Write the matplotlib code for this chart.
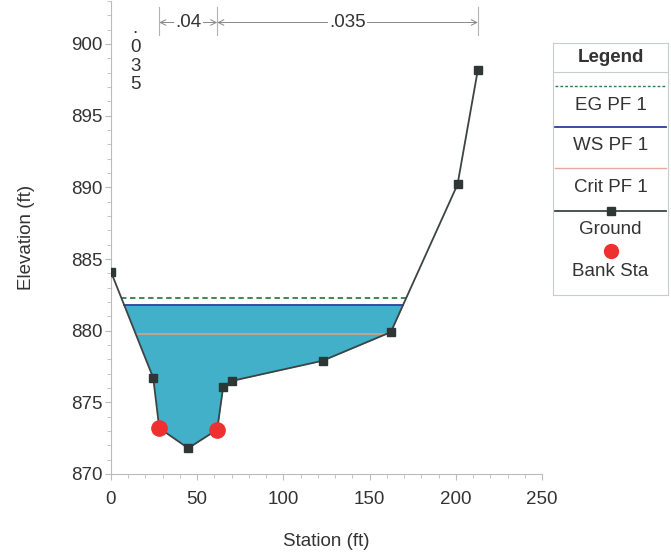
import numpy as np
import matplotlib
matplotlib.use("Agg")
import matplotlib.pyplot as plt
from matplotlib.ticker import MultipleLocator

plt.rcParams['font.family'] = ['Liberation Sans', 'DejaVu Sans']

# ground profile (station, elevation)
station = [0, 24.5, 28.0, 44.8, 61.6, 65.1, 70.3, 122.7, 162.3, 201.0, 212.8]
elevation = [884.1, 876.7, 873.2, 871.8, 873.1, 876.1, 876.5, 877.9, 879.9, 890.2, 898.2]
# bank stations
bank_sta = [28.0, 61.6]
bank_elev = [873.2, 873.1]
# water surfaces
ws_pf1 = 881.8
eg_pf1 = 882.3
crit_pf1 = 879.8
# manning's n values and their limits
n_values = [".035", ".04", ".035"]
n_breaks = [0, 28.0, 61.6, 212.8]

st = np.array(station)
el = np.array(elevation)
imin = int(np.argmin(el))
FS = 13.5
TXT = "#333333"


def edges(level):
    # station where a level meets the ground on each bank
    left = np.interp(level, el[:imin + 1][::-1], st[:imin + 1][::-1])
    right = np.interp(level, el[imin:], st[imin:])
    return left, right


fig = plt.figure(figsize=(6.71, 5.55), dpi=100)
ax = fig.add_axes([111 / 671, 1 - 474 / 555, 431 / 671, 473 / 555])

# water fill between WS and ground
wl, wr = edges(ws_pf1)
xs = np.concatenate([[wl], st[(st > wl) & (st < wr)], [wr]])
ys = np.interp(xs, st, el)
ax.fill_between(xs, ys, ws_pf1, color="#42b0c9", zorder=1, lw=0)

el_l, el_r = edges(eg_pf1)
ax.plot([el_l, el_r], [eg_pf1, eg_pf1], color="#2f7f48", ls=(0, (3, 2)), lw=1.3, zorder=3)
ax.plot([wl, wr], [ws_pf1, ws_pf1], color="#2a3f9a", lw=1.3, zorder=3)
cl, cr = edges(crit_pf1)
ax.plot([cl, cr], [crit_pf1, crit_pf1], color="#e0a080", lw=1.2, zorder=3)

ax.plot(station, elevation, color="#3c4444", lw=1.3, marker="s", ms=6,
        mfc="#2e3636", mec="#2e3636", zorder=4)
ax.plot(bank_sta, bank_elev, "o", color="#ee3030", ms=11, zorder=5, lw=0)

ax.set_xlim(0, 250)
ax.set_ylim(870, 903)
ax.set_xticks([0, 50, 100, 150, 200, 250])
ax.set_yticks([870, 875, 880, 885, 890, 895, 900])
ax.xaxis.set_minor_locator(MultipleLocator(10))
ax.yaxis.set_minor_locator(MultipleLocator(1))
for s in ["top", "right"]:
    ax.spines[s].set_visible(False)
for s in ["left", "bottom"]:
    ax.spines[s].set_color("#b8bcbc")
ax.tick_params(which="both", colors="#b8bcbc", labelcolor=TXT, labelsize=FS)
ax.tick_params(axis="y", which="major", length=4, pad=2)
ax.tick_params(axis="x", which="major", length=4, pad=8)
ax.tick_params(which="minor", length=3)
ax.set_xlabel("Station (ft)", fontsize=FS, color=TXT, labelpad=18)
ax.set_ylabel("Elevation (ft)", fontsize=FS, color=TXT, labelpad=26)

# n-value markers at the top
for b in n_breaks[1:]:
    ax.plot([b, b], [900.6, 902.6], color="#b0b4b4", lw=0.8, clip_on=False)
ax.text(14, 901.7, "\n".join(n_values[0]), ha="center", va="top", fontsize=FS,
        color=TXT, linespacing=1.15)
for i in range(1, 3):
    a, b = n_breaks[i], n_breaks[i + 1]
    ax.annotate("", xy=(a, 901.5), xytext=(b, 901.5),
                arrowprops=dict(arrowstyle="<->", color="#888888", lw=0.7,
                                shrinkA=0, shrinkB=0))
    ax.text((a + b) / 2, 901.5, n_values[i], ha="center", va="center",
            fontsize=FS, color=TXT,
            bbox=dict(fc="white", ec="none", pad=1))

# legend panel
lg = fig.add_axes([553 / 671, 1 - 295 / 555, 115 / 671, 252 / 555])
lg.set_xlim(0, 115)
lg.set_ylim(252, 0)
lg.set_xticks([])
lg.set_yticks([])
for s in lg.spines.values():
    s.set_color("#c8cccc")
lg.text(57.5, 15, "Legend", ha="center", va="center", fontsize=FS,
        fontweight="bold", color=TXT)
lg.plot([0, 115], [29, 29], color="#c8cccc", lw=0.8)
lg.plot([2, 113], [43, 43], color="#2f7f48", ls=(0, (2, 1.5)), lw=1.0)
lg.text(57.5, 62, "EG PF 1", ha="center", va="center", fontsize=FS, color=TXT)
lg.plot([2, 113], [84, 84], color="#2a3f9a", lw=1.3)
lg.text(57.5, 103, "WS PF 1", ha="center", va="center", fontsize=FS, color=TXT)
lg.plot([2, 113], [125, 125], color="#e8a8a0", lw=1.0)
lg.text(57.5, 144, "Crit PF 1", ha="center", va="center", fontsize=FS, color=TXT)
lg.plot([2, 113], [168, 168], color="#3c4444", lw=1.3)
lg.plot([57.5], [168], "s", color="#2e3636", ms=6)
lg.text(57.5, 187, "Ground", ha="center", va="center", fontsize=FS, color=TXT)
lg.plot([57.5], [208], "o", color="#ee3030", ms=10)
lg.text(57.5, 229, "Bank Sta", ha="center", va="center", fontsize=FS, color=TXT)

fig.savefig("out.png", dpi=100)
